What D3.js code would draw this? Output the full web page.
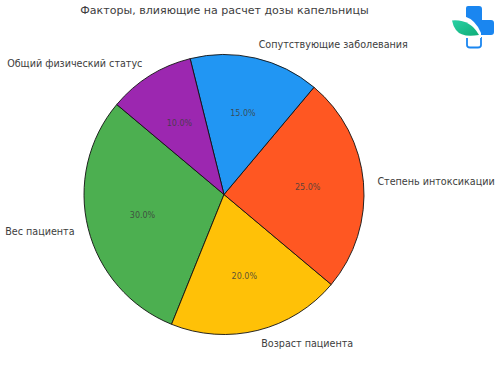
<!DOCTYPE html>
<html><head><meta charset="utf-8">
<script src="https://cdn.jsdelivr.net/npm/d3@7/dist/d3.min.js"></script>
<style>html,body{margin:0;padding:0;background:#fff}svg{display:block}text{font-family:"DejaVu Sans";fill:#3d3d3d}</style>
</head><body><svg id="c" width="500" height="376"></svg>
<script>
const categories=["Вес пациента","Возраст пациента","Степень интоксикации","Сопутствующие заболевания","Общий физический статус"];
const values=[30,20,25,15,10];
const colors=["#4CAF50","#FFC107","#FF5722","#2196F3","#9C27B0"];
const title="Факторы, влияющие на расчет дозы капельницы";
const svg=d3.select("#c");
const cx=224,cy=194.5,R=140;
const start=-50*Math.PI/180;
const pie=d3.pie().sort(null).value(d=>d).startAngle(start).endAngle(start-2*Math.PI);
const arcs=pie(values);
const arc=d3.arc().innerRadius(0).outerRadius(R);
const g=svg.append("g").attr("transform",`translate(${cx},${cy})`);
g.selectAll("path").data(arcs).join("path").attr("d",arc).attr("fill",(d,i)=>colors[i]).attr("stroke","#111").attr("stroke-width",0.9).attr("stroke-linejoin","round");
const pos=(d,r)=>{const a=(d.startAngle+d.endAngle)/2;return [Math.sin(a)*r,-Math.cos(a)*r];};
g.selectAll("text.l").data(arcs).join("text").attr("class","l")
 .attr("x",d=>pos(d,R*1.1)[0]).attr("y",d=>pos(d,R*1.1)[1]).attr("dy","0.36em")
 .attr("text-anchor",d=>pos(d,1)[0]>0?"start":"end").attr("font-size",9.6).text((d,i)=>categories[i]);
g.selectAll("text.p").data(arcs).join("text").attr("class","p")
 .attr("x",d=>pos(d,R*0.6)[0]).attr("y",d=>pos(d,R*0.6)[1]).attr("dy","0.36em")
 .attr("text-anchor","middle").attr("font-size",8).attr("fill-opacity",0.85).text(d=>d.value.toFixed(1)+"%");
svg.append("text").attr("x",224.5).attr("y",14).attr("text-anchor","middle").attr("font-size",11.05).text(title);
// logo
const defs=svg.append("defs");
const lg=defs.append("linearGradient").attr("id","leaf").attr("x1","0").attr("y1","0").attr("x2","1").attr("y2","1");
lg.append("stop").attr("offset","0").attr("stop-color","#2ad0a4");
lg.append("stop").attr("offset","1").attr("stop-color","#0fae78");
const logo=svg.append("g");
logo.append("path").attr("fill","#1a86f0").attr("d","M468 6H479Q482 6 482 9V20H491Q494 20 494 23V32Q494 35 491 35H482V35H466V8Q466 6 468 6Z");
logo.append("path").attr("fill","none").attr("stroke","#1a86f0").attr("stroke-width",1.8).attr("d","M467 37V45Q467 47.5 470 47.5H478Q481 47.5 481 45V37");
logo.append("path").attr("fill","#fff").attr("d","M440 16H464Q476 20 481 33V38H440Z");
logo.append("path").attr("fill","url(#leaf)").attr("d","M452 20.5Q470 19 479 35Q462 38 456 30Q453 26 452 20.5Z");
</script></body></html>
